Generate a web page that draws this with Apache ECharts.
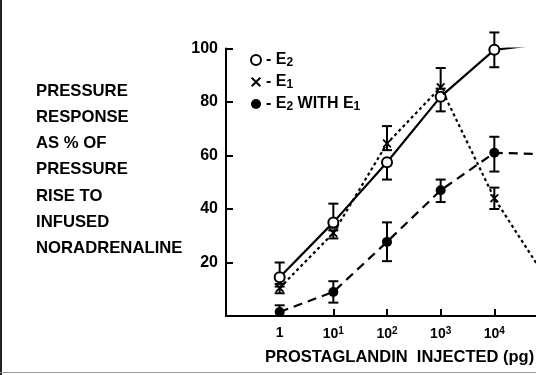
<!DOCTYPE html>
<html><head><meta charset="utf-8">
<script src="https://cdn.jsdelivr.net/npm/echarts@6/dist/echarts.min.js"></script>
<style>html,body{margin:0;padding:0;background:#fff}#c{width:536px;height:375px}</style>
</head><body><div id="c"></div>
<script>
// x values are log10 of dose (pg): 0 -> 1, 1 -> 10^1, ...
const doses = [0, 1, 2, 3, 4, 5];
const e2 = [14.5, 35, 57.5, 82, 99.5, 102];
const e1 = [10.5, 31, 64.5, 85.5, 44, 13];
const e2withE1 = [1.5, 9, 27.7, 47, 61, 60.5];
// error bars: [low, high]
const e2Err = [[12, 20], [33, 42], [51, 58], [76.5, 82], [93, 106]];
const e1Err = [[8.5, 11], [29, 32], [62, 71], [85, 92.7], [40, 48]];
const e2e1Err = [[0, 4], [5, 13], [20.5, 35], [42.6, 51], [54, 67]];
const yTicks = [20, 40, 60, 80, 100];
const titleLines = ['PRESSURE', 'RESPONSE', 'AS % OF', 'PRESSURE', 'RISE TO', 'INFUSED', 'NORADRENALINE'];

const FONT = '"Liberation Sans", Arial, sans-serif';
const xShape = 'path://M0,1.4L1.4,0L5,3.6L8.6,0L10,1.4L6.4,5L10,8.6L8.6,10L5,6.4L1.4,10L0,8.6L3.6,5Z';

function pts(vals) { return vals.map((v, i) => [doses[i], v]); }
function errData(err) { return err.map((e, i) => [doses[i], e[0], e[1]]); }
function errSeries(err) {
  return {
    type: 'custom', z: 1, silent: true,
    data: errData(err),
    renderItem: function (params, api) {
      const x = api.coord([api.value(0), api.value(1)]);
      const lo = x[1];
      const hi = api.coord([api.value(0), api.value(2)])[1];
      const cx = x[0], w = 5;
      const st = { stroke: '#000', lineWidth: 2 };
      return { type: 'group', children: [
        { type: 'line', shape: { x1: cx, y1: lo, x2: cx, y2: hi }, style: st },
        { type: 'line', shape: { x1: cx - w, y1: lo, x2: cx + w, y2: lo }, style: st },
        { type: 'line', shape: { x1: cx - w, y1: hi, x2: cx + w, y2: hi }, style: st }
      ]};
    }
  };
}

const chart = echarts.init(document.getElementById('c'));
const graphics = titleLines.map((t, i) => ({
  type: 'text', left: 36, top: 83 + i * 26.1,
  style: { text: t, font: 'bold 16.7px ' + FONT, fill: '#000' }
}));
graphics.push({ type: 'text', left: 265, top: 349,
  style: { text: 'PROSTAGLANDIN  INJECTED (pg)', font: 'bold 16.5px ' + FONT, fill: '#000' } });
graphics.push({ type: 'line', shape: { x1: 1, y1: 0, x2: 1, y2: 375 }, style: { stroke: '#222', lineWidth: 2 } });
graphics.push({ type: 'line', shape: { x1: 0, y1: 372.5, x2: 536, y2: 372.5 }, style: { stroke: '#999', lineWidth: 1 } });

chart.setOption({
  animation: false,
  backgroundColor: '#fff',
  grid: { left: 226, top: 48.5, height: 267.5, width: 322, outerBoundsMode: 'none', containLabel: false },
  xAxis: {
    type: 'value', min: -1, max: 5, interval: 1,
    axisLine: { onZero: false, lineStyle: { color: '#000', width: 2 } },
    axisTick: { inside: true, length: 7, lineStyle: { color: '#000', width: 2 } },
    splitLine: { show: false },
    axisLabel: {
      margin: 10, color: '#000', fontFamily: FONT, fontWeight: 'bold', fontSize: 14,
      formatter: v => v < 0 ? '' : (v === 0 ? '1' : '10{s|' + v + '}'),
      rich: { s: { fontSize: 10, fontWeight: 'bold', fontFamily: FONT, verticalAlign: 'top', padding: [0, 0, 6, 0] } }
    }
  },
  yAxis: {
    type: 'value', min: 0, max: 100, interval: 20,
    axisLine: { show: true, onZero: false, lineStyle: { color: '#000', width: 2 } },
    axisTick: { show: true, inside: true, length: 7, lineStyle: { color: '#000', width: 2 } },
    splitLine: { show: false },
    axisLabel: {
      margin: 8, color: '#000', fontFamily: FONT, fontWeight: 'bold', fontSize: 16,
      formatter: v => yTicks.includes(v) ? String(v) : ''
    }
  },
  legend: {
    orient: 'vertical', left: 245, top: 47, itemGap: 5, itemWidth: 10, itemHeight: 10,
    textStyle: { color: '#000', fontFamily: FONT, fontWeight: 'bold', fontSize: 16,
      rich: { sub: { fontSize: 12, fontFamily: FONT, fontWeight: 'bold', verticalAlign: 'bottom', padding: [6, 0, 0, 0] } } },
    formatter: function (name) {
      if (name === 'E2') return '- E{sub|2}';
      if (name === 'E1') return '- E{sub|1}';
      return '- E{sub|2} WITH E{sub|1}';
    },
    data: [
      { name: 'E2', icon: 'emptyCircle' },
      { name: 'E1', icon: xShape },
      { name: 'E2 WITH E1', icon: 'circle' }
    ]
  },
  graphic: graphics,
  series: [
    errSeries(e2Err), errSeries(e1Err), errSeries(e2e1Err),
    { name: 'E2', type: 'line', z: 3, data: pts(e2), symbol: 'emptyCircle', symbolSize: 10,
      lineStyle: { color: '#000', width: 2.2 }, itemStyle: { color: '#000', borderWidth: 2 } },
    { name: 'E1', type: 'line', z: 4, data: pts(e1), symbol: xShape, symbolSize: 9,
      lineStyle: { color: '#000', width: 2.2, type: [3, 3] }, itemStyle: { color: '#000' } },
    { name: 'E2 WITH E1', type: 'line', z: 3, data: pts(e2withE1), symbol: 'circle', symbolSize: 10,
      lineStyle: { color: '#000', width: 2.2, type: [9, 6] }, itemStyle: { color: '#000' } }
  ]
});
</script></body></html>
